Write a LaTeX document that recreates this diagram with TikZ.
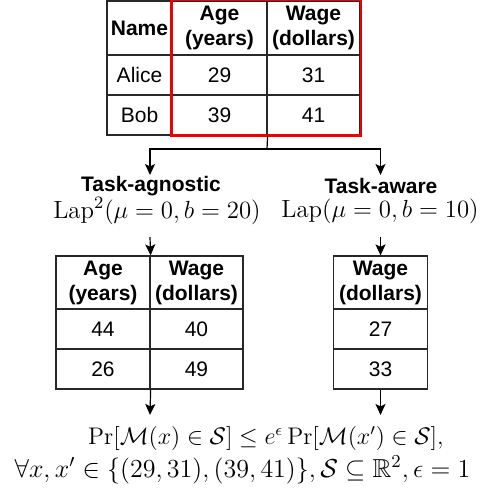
\RequirePackage{fix-cm}
\documentclass[tikz,border=0pt]{standalone}
\usepackage{amsmath}
\usepackage{amssymb}
\usepackage{fontspec}
\setsansfont{Liberation Sans}
\usetikzlibrary{
	arrows.meta,
	positioning
}
\definecolor{LineGray}{RGB}{40,40,40}
\definecolor{BoxRed}{RGB}{238,0,0}
\tikzset{
	cell/.style={draw=LineGray, line width=0.6pt, inner sep=0pt, align=center, font=\sffamily\fontsize{10.5}{12.5}\selectfont},
	head/.style={cell, font=\sffamily\bfseries\fontsize{10.5}{12.5}\selectfont},
	tag/.style={font=\sffamily\bfseries\fontsize{10.5}{12.5}\selectfont, inner sep=0.5pt},
	formula/.style={font=\fontsize{12.4}{14}\selectfont, inner sep=0.5pt},
	arr/.style={-{Stealth[length=5.5pt,width=5pt,inset=1.2pt]}, line width=0.6pt, black}
}

\begin{document}
\begin{tikzpicture}[x=0.5pt, y=-0.5pt]
		\useasboundingbox (0,0) rectangle (482,497);
		\node[head, minimum width=32.5pt, minimum height=27pt] (hName) at (139.5,28) {Name};
		\node[head, minimum width=47.5pt, minimum height=27pt] (hAge) at (219.5,28) {Age\\(years)};
		\node[head, minimum width=46.5pt, minimum height=27pt] (hWage) at (313.5,28) {Wage\\(dollars)};
		\node[cell, minimum width=32.5pt, minimum height=20pt] (aName) at (139.5,75) {Alice};
		\node[cell, minimum width=47.5pt, minimum height=20pt] (aAge) at (219.5,75) {29};
		\node[cell, minimum width=46.5pt, minimum height=20pt] (aWage) at (313.5,75) {31};
		\node[cell, minimum width=32.5pt, minimum height=20pt] (bName) at (139.5,115) {Bob};
		\node[cell, minimum width=47.5pt, minimum height=20pt] (bAge) at (219.5,115) {39};
		\node[cell, minimum width=46.5pt, minimum height=20pt] (bWage) at (313.5,115) {41};
		\draw[BoxRed, line width=1.1pt] (hAge.north west) rectangle (bWage.south east);
		\coordinate (split) at (267,149);
		\coordinate (tipG) at (150,175);
		\coordinate (tipW) at (380.5,175);
		\draw[line width=0.6pt] (bAge.south east) -- (split);
		\draw[arr] (split) -| (tipG);
		\draw[arr] (split) -| (tipW);
		\node[tag] (agnostic) at (151,186) {Task-agnostic};
		\node[formula] (lapG) at (157,211) {$\mathrm{Lap}^2(\mu=0,b=20)$};
		\node[tag] (aware) at (381,186) {Task-aware};
		\node[formula] (lapW) at (380,211) {$\mathrm{Lap}(\mu=0,b=10)$};
		\node[head, minimum width=47pt, minimum height=26.5pt] (gAge) at (103,282.5) {Age\\(years)};
		\node[head, minimum width=46.5pt, minimum height=26.5pt] (gWage) at (196.5,282.5) {Wage\\(dollars)};
		\node[cell, minimum width=47pt, minimum height=20pt] (g1Age) at (103,329) {44};
		\node[cell, minimum width=46.5pt, minimum height=20pt] (g1Wage) at (196.5,329) {40};
		\node[cell, minimum width=47pt, minimum height=20pt] (g2Age) at (103,369) {26};
		\node[cell, minimum width=46.5pt, minimum height=20pt] (g2Wage) at (196.5,369) {49};
		\node[head, minimum width=47pt, minimum height=26.5pt] (wWage) at (380.5,282.5) {Wage\\(dollars)};
		\node[cell, minimum width=47pt, minimum height=20pt] (w1Wage) at (380.5,329) {27};
		\node[cell, minimum width=47pt, minimum height=20pt] (w2Wage) at (380.5,369) {33};
		\coordinate (tailG) at (150,237);
		\coordinate (tailW) at (380.5,237);
		\draw[arr] (tailG) -- (gAge.north east);
		\draw[arr] (tailW) -- (wWage.north);
		\coordinate (endG) at (150,415);
		\coordinate (endW) at (380.5,415);
		\draw[arr] (g2Age.south east) -- (endG);
		\draw[arr] (w2Wage.south) -- (endW);
		\node[formula, font=\fontsize{12}{14}\selectfont] (dpA) at (266,438) {$\Pr[\mathcal{M}(x)\in\mathcal{S}]\leq e^{\epsilon}\Pr[\mathcal{M}(x')\in\mathcal{S}],$};
		\node[formula, font=\fontsize{13}{15}\selectfont] (dpB) at (242.5,470) {$\forall x,x'\in\{(29,31),(39,41)\},\mathcal{S}\subseteq\mathbb{R}^2,\epsilon=1$};
	\end{tikzpicture}
\end{document}
